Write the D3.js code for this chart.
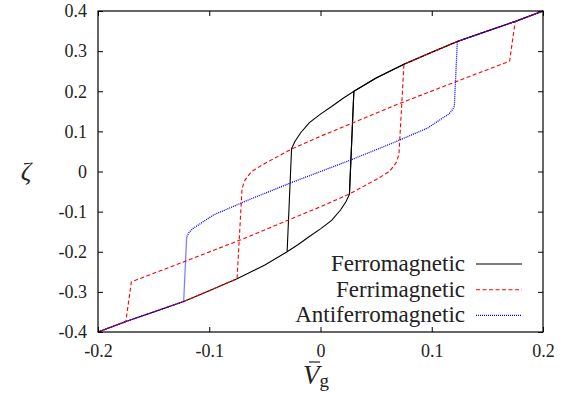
<!DOCTYPE html>
<html>
<head>
<meta charset="utf-8">
<script src="https://cdn.jsdelivr.net/npm/d3@7"></script>
<style>
  body { margin: 0; background: #fff; }
  text { font-family: "Liberation Serif", "DejaVu Serif", serif; fill: #222; }
</style>
</head>
<body>
<div class="chart"></div>
<script>
const width = 571;
const height = 397;

const xTicks = [-0.2, -0.1, 0, 0.1, 0.2];
const yTicks = [-0.4, -0.3, -0.2, -0.1, 0, 0.1, 0.2, 0.3, 0.4];

// shared outer branches of all loops
const outerLow = [[-0.2, -0.4], [-0.175, -0.374], [-0.15, -0.35], [-0.123, -0.324], [-0.1, -0.297],
  [-0.075, -0.267], [-0.05, -0.233], [-0.03, -0.2], [-0.02, -0.182], [-0.01, -0.162], [0, -0.143],
  [0.01, -0.122], [0.018, -0.096], [0.023, -0.075], [0.026, -0.057]];
const outerHigh = [[-0.026, 0.057], [-0.023, 0.075], [-0.018, 0.096], [-0.01, 0.122], [0, 0.143],
  [0.01, 0.162], [0.02, 0.182], [0.03, 0.2], [0.05, 0.233], [0.075, 0.267], [0.1, 0.297],
  [0.123, 0.324], [0.15, 0.35], [0.175, 0.374], [0.2, 0.4]];

// ferrimagnetic middle branches
const ferriUp = [[-0.0705, -0.042], [-0.068, -0.022], [-0.062, 0.0], [-0.05, 0.02], [-0.026, 0.056],
  [0, 0.088], [0.0715, 0.17], [0.12, 0.222], [0.17, 0.275]];
const ferriDown = [[0.0705, 0.042], [0.068, 0.022], [0.062, 0.0], [0.05, -0.02], [0.026, -0.056],
  [0, -0.088], [-0.0715, -0.17], [-0.12, -0.222], [-0.17, -0.275]];

// antiferromagnetic middle branch
const antiMid = [[-0.1203, -0.163], [-0.118, -0.151], [-0.1144, -0.1415], [-0.108, -0.13],
  [-0.0964, -0.1085], [-0.0649, -0.071], [-0.0274, -0.029], [0, 0], [0.0274, 0.029],
  [0.0649, 0.071], [0.0964, 0.1085], [0.108, 0.13], [0.1144, 0.1415], [0.118, 0.151], [0.1203, 0.163]];

// switching fields
const ferroJump = [[0.026, -0.057], [0.03, 0.2]];
const ferroJumpBack = [-0.03, -0.2];
const ferriJumpIn = 0.075;
const ferriJumpOut = 0.175;
const antiJump = 0.123;

const seriesNames = ['Ferromagnetic', 'Ferrimagnetic', 'Antiferromagnetic'];
const seriesColors = ['#000000', '#ff0000', '#0000ff'];
const seriesDash = [null, '4,2.5', '1,1'];

const below = v => p => p[0] <= v + 1e-9;
const above = v => p => p[0] >= v - 1e-9;
const rev = a => a.slice().reverse();

const ferroPaths = [
  outerLow.concat(outerHigh.filter(above(0.03))),
  rev(outerHigh).concat([ferroJumpBack]),
  ferroJump
];

const ferriPaths = [
  outerLow.filter(below(-ferriJumpIn)).concat(ferriUp, outerHigh.filter(above(ferriJumpOut))),
  rev(outerHigh).filter(above(ferriJumpIn)).concat(ferriDown, rev(outerLow).filter(below(-ferriJumpOut)))
];

const antiPaths = [
  outerLow.filter(below(-antiJump)).concat(antiMid, outerHigh.filter(above(antiJump)))
];

const allPaths = [ferroPaths, ferriPaths, antiPaths];

const margin = {left: 98, right: 28, top: 11, bottom: 65};
const x = d3.scaleLinear().domain([-0.2, 0.2]).range([margin.left, width - margin.right]);
const y = d3.scaleLinear().domain([-0.4, 0.4]).range([height - margin.bottom, margin.top]);

const svg = d3.select('.chart').append('svg')
  .attr('width', width)
  .attr('height', height);

const line = d3.line().x(d => x(d[0])).y(d => y(d[1]));

allPaths.forEach((paths, i) => {
  svg.append('g')
    .selectAll('path')
    .data(paths)
    .enter()
    .append('path')
    .attr('d', line)
    .attr('fill', 'none')
    .attr('stroke', seriesColors[i])
    .attr('stroke-width', i === 2 ? 1.3 : 1.1)
    .attr('stroke-dasharray', seriesDash[i]);
});

// axes, ticks inside on all sides
const tickLen = 5;
svg.append('g')
  .attr('transform', 'translate(0,' + y(-0.4) + ')')
  .call(d3.axisBottom(x).tickValues(xTicks).tickSize(-tickLen).tickPadding(12).tickFormat(d3.format('')))
  .call(g => g.select('.domain').remove());
svg.append('g')
  .attr('transform', 'translate(0,' + y(0.4) + ')')
  .call(d3.axisTop(x).tickValues(xTicks).tickSize(-tickLen).tickFormat(''))
  .call(g => g.select('.domain').remove());
svg.append('g')
  .attr('transform', 'translate(' + x(-0.2) + ',0)')
  .call(d3.axisLeft(y).tickValues(yTicks).tickSize(-tickLen).tickPadding(11).tickFormat(d3.format('')))
  .call(g => g.select('.domain').remove());
svg.append('g')
  .attr('transform', 'translate(' + x(0.2) + ',0)')
  .call(d3.axisRight(y).tickValues(yTicks).tickSize(-tickLen).tickFormat(''))
  .call(g => g.select('.domain').remove());

svg.selectAll('.tick text')
  .attr('font-size', 18)
  .attr('font-family', '"Liberation Serif", serif')
  .attr('fill', '#222')
  .text(function () { return d3.select(this).text().replace('−', '-'); });
svg.selectAll('.tick line').attr('stroke', '#000');

svg.append('rect')
  .attr('x', x(-0.2))
  .attr('y', y(0.4))
  .attr('width', x(0.2) - x(-0.2))
  .attr('height', y(-0.4) - y(0.4))
  .attr('fill', 'none')
  .attr('stroke', '#000')
  .attr('stroke-width', 1.2);

// axis titles
svg.append('text')
  .attr('x', 26)
  .attr('y', 180)
  .attr('text-anchor', 'middle')
  .attr('font-size', 26)
  .attr('font-style', 'italic')
  .text('ζ');

const xl = svg.append('text')
  .attr('x', 316)
  .attr('y', 384)
  .attr('text-anchor', 'middle')
  .attr('font-size', 27);
xl.append('tspan').attr('font-style', 'italic').text('V');
xl.append('tspan').attr('font-size', 19).attr('dy', 3).text('g');
svg.append('line')
  .attr('x1', 309).attr('x2', 320)
  .attr('y1', 362).attr('y2', 362)
  .attr('stroke', '#222').attr('stroke-width', 1.2);

// legend
const legend = svg.append('g');
seriesNames.forEach((name, i) => {
  const ly = 264 + i * 25.7;
  legend.append('text')
    .attr('x', 465)
    .attr('y', ly + 7)
    .attr('text-anchor', 'end')
    .attr('font-size', 23)
    .text(name);
  legend.append('line')
    .attr('x1', 476).attr('x2', 522)
    .attr('y1', ly).attr('y2', ly)
    .attr('stroke', seriesColors[i])
    .attr('stroke-width', i === 2 ? 1.3 : 1.1)
    .attr('stroke-dasharray', seriesDash[i]);
});
</script>
</body>
</html>
